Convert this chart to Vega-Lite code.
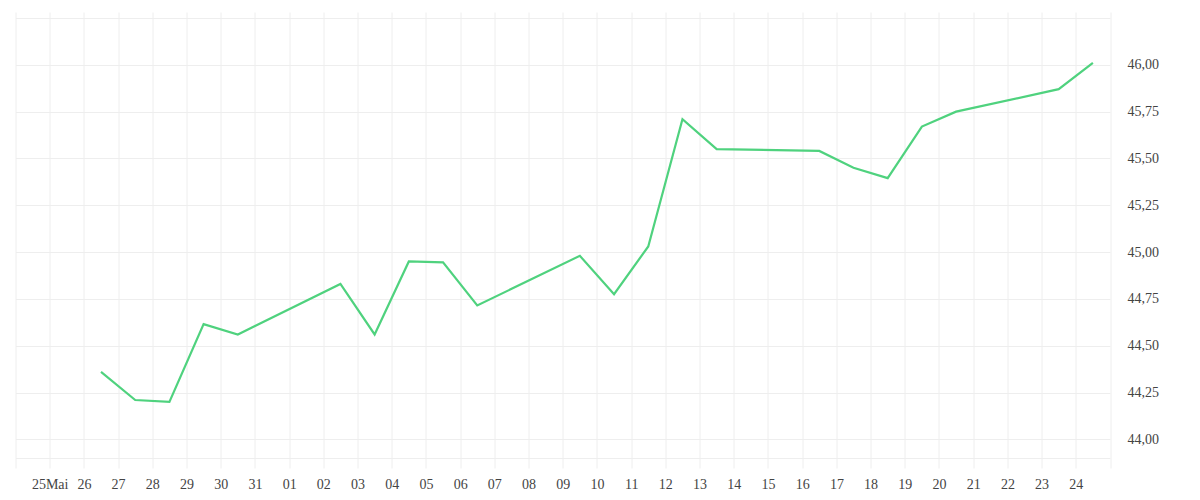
{
  "$schema": "https://vega.github.io/schema/vega-lite/v6.json",
  "autosize": {"type": "none"},
  "padding": {"left": 15.5, "top": 12, "right": 90, "bottom": 32},
  "width": 1094.5,
  "height": 456,
  "config": {
    "font": "Liberation Serif",
    "view": {"stroke": null},
    "axis": {"labelFont": "Liberation Serif", "labelFontSize": 14, "labelColor": "#444444", "gridColor": "#eeeeee", "gridWidth": 1}
  },
  "data": {
    "values": [
      {"date": "2025-05-26T12:00:00", "price": 44.36},
      {"date": "2025-05-27T12:00:00", "price": 44.21},
      {"date": "2025-05-28T12:00:00", "price": 44.20},
      {"date": "2025-05-29T12:00:00", "price": 44.615},
      {"date": "2025-05-30T12:00:00", "price": 44.56},
      {"date": "2025-06-02T12:00:00", "price": 44.83},
      {"date": "2025-06-03T12:00:00", "price": 44.56},
      {"date": "2025-06-04T12:00:00", "price": 44.95},
      {"date": "2025-06-05T12:00:00", "price": 44.945},
      {"date": "2025-06-06T12:00:00", "price": 44.715},
      {"date": "2025-06-09T12:00:00", "price": 44.98},
      {"date": "2025-06-10T12:00:00", "price": 44.775},
      {"date": "2025-06-11T12:00:00", "price": 45.03},
      {"date": "2025-06-12T12:00:00", "price": 45.71},
      {"date": "2025-06-13T12:00:00", "price": 45.55},
      {"date": "2025-06-16T12:00:00", "price": 45.54},
      {"date": "2025-06-17T12:00:00", "price": 45.45},
      {"date": "2025-06-18T12:00:00", "price": 45.395},
      {"date": "2025-06-19T12:00:00", "price": 45.67},
      {"date": "2025-06-20T12:00:00", "price": 45.75},
      {"date": "2025-06-23T12:00:00", "price": 45.87},
      {"date": "2025-06-24T12:00:00", "price": 46.01}
    ]
  },
  "mark": {"type": "line", "color": "#4fd27e", "strokeWidth": 2.2, "strokeJoin": "miter"},
  "encoding": {
    "x": {
      "field": "date",
      "type": "temporal",
      "scale": {"domain": [{"year": 2025, "month": 5, "date": 24}, {"year": 2025, "month": 6, "date": 25}], "nice": false},
      "axis": {
        "title": null,
        "tickCount": {"interval": "day", "step": 1},
        "grid": true,
        "ticks": false,
        "domain": false,
        "labelPadding": 9,
        "labelFlush": false,
        "labelOverlap": false,
        "labelExpr": "(month(datum.value)==4 && date(datum.value)==24) || (month(datum.value)==5 && date(datum.value)==25) ? '' : (month(datum.value)==4 && date(datum.value)==25 ? '25Mai' : timeFormat(datum.value, '%d'))"
      }
    },
    "y": {
      "field": "price",
      "type": "quantitative",
      "scale": {"domain": [43.847, 46.282], "nice": false, "zero": false},
      "axis": {
        "title": null,
        "orient": "right",
        "values": [43.9, 44, 44.25, 44.5, 44.75, 45, 45.25, 45.5, 45.75, 46, 46.25],
        "ticks": false,
        "domain": false,
        "grid": true,
        "labelPadding": 17,
        "labelExpr": "datum.value < 43.95 || datum.value > 46.2 ? '' : replace(format(datum.value, '.2f'), '.', ',')"
      }
    }
  }
}
